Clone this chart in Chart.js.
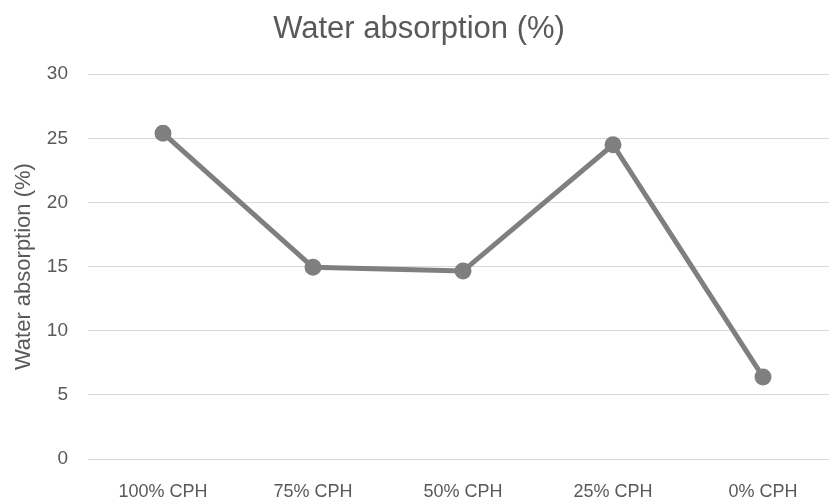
<!DOCTYPE html>
<html>
<head>
<meta charset="utf-8">
<script src="https://cdn.jsdelivr.net/npm/chart.js@4/dist/chart.umd.min.js"></script>
<style>
  html, body { margin: 0; padding: 0; background: #fff; }
  #wrap { width: 829px; height: 501px; }
</style>
</head>
<body>
<div id="wrap"><canvas id="chart" width="829" height="501"></canvas></div>
<script>
const categories = ['100% CPH', '75% CPH', '50% CPH', '25% CPH', '0% CPH'];
const absorption = [25.4, 14.95, 14.65, 24.5, 6.4];
const yTicks = [0, 5, 10, 15, 20, 25, 30];

const textColor = '#595959';
const fontFamily = '"Liberation Sans", Arial, sans-serif';

// the original plot area runs a few pixels past the right edge of the image
const overhang = 9;
const stretchPlot = {
  id: 'stretchPlot',
  afterLayout(chart) {
    const x = chart.scales.x;
    x.right += overhang;
    x.width += overhang;
    x.configure();
    chart.chartArea.right += overhang;
    chart.chartArea.width += overhang;
  }
};

new Chart(document.getElementById('chart'), {
  type: 'line',
  data: {
    labels: categories,
    datasets: [{
      label: 'Water absorption (%)',
      data: absorption,
      borderColor: '#7f7f7f',
      backgroundColor: '#7f7f7f',
      borderWidth: 5,
      pointRadius: 6,
      pointHoverRadius: 6,
      tension: 0,
      fill: false
    }]
  },
  plugins: [stretchPlot],
  options: {
    responsive: false,
    animation: false,
    layout: { padding: { left: 0, right: -9, top: 0, bottom: 0 }, autoPadding: false },
    plugins: {
      legend: { display: false },
      tooltip: { enabled: false },
      title: {
        display: true,
        text: 'Water absorption (%)',
        color: textColor,
        font: { family: fontFamily, size: 31, weight: 'normal' },
        padding: { top: 11, bottom: 26 }
      }
    },
    scales: {
      x: {
        offset: true,
        grid: { display: false },
        border: { display: false },
        ticks: { color: textColor, font: { family: fontFamily, size: 18 }, padding: 14, maxRotation: 0 },
        afterFit: s => { s.height = 42; s.paddingLeft = 0; s.paddingRight = 0; }
      },
      y: {
        min: 0,
        max: 30,
        afterBuildTicks: s => { s.ticks = yTicks.map(v => ({ value: v })); },
        grid: { color: '#d9d9d9', lineWidth: 1, drawTicks: false },
        border: { display: false },
        ticks: { color: textColor, font: { family: fontFamily, size: 19 }, padding: 20 },
        title: {
          display: true,
          text: 'Water absorption (%)',
          color: textColor,
          font: { family: fontFamily, size: 22 },
          padding: { top: 11, bottom: 0 }
        },
        afterFit: s => { s.width = 88; }
      }
    }
  }
});
</script>
</body>
</html>
